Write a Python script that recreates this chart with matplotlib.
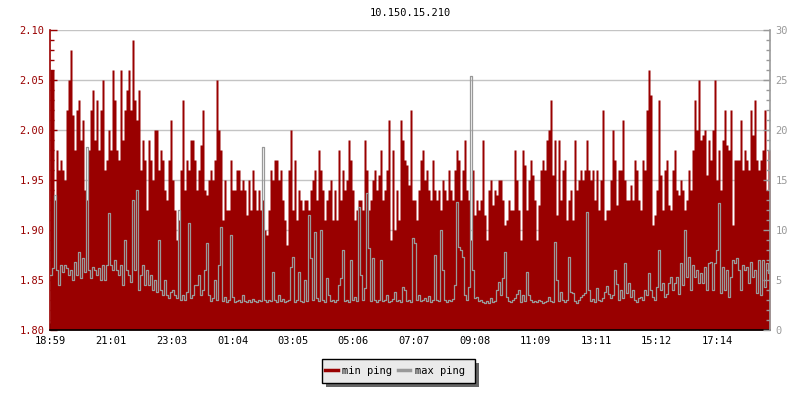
import numpy as np
import matplotlib
matplotlib.use("Agg")
import matplotlib.pyplot as plt
from matplotlib.ticker import MultipleLocator, FormatStrFormatter
from matplotlib.lines import Line2D
from matplotlib.patches import Rectangle

plt.rcParams["font.family"] = "DejaVu Sans Mono"

title = "10.150.15.210"
start_time = "18:59"
sample_step_min = 4
span_min = 24 * 60
time_labels = ["18:59", "21:01", "23:03", "01:04", "03:05", "05:06",
               "07:07", "09:08", "11:09", "13:11", "15:12", "17:14"]
series_names = ["min ping", "max ping"]

# min ping (left axis), one value every 4 minutes
min_ping = [
    2.06, 2.06, 1.93, 1.98, 1.96, 1.97, 1.96, 1.95, 2.02, 2.05,
    2.08, 2.015, 1.98, 2.02, 2.03, 1.99, 2.01, 1.94, 1.93, 1.98,
    2.02, 2.04, 1.99, 2.03, 1.98, 2.02, 2.05, 1.96, 1.97, 2.00,
    1.98, 2.06, 2.03, 1.98, 1.97, 2.06, 1.99, 2.02, 2.04, 2.06,
    2.02, 2.09, 2.03, 2.01, 2.04, 1.96, 1.99, 1.97, 1.92, 1.99,
    1.97, 1.95, 2.00, 2.00, 1.96, 1.98, 1.97, 1.94, 1.93, 1.97,
    2.01, 1.95, 1.92, 1.89, 1.91, 1.96, 2.03, 1.94, 1.97, 1.96,
    1.99, 1.99, 1.97,
    1.94, 1.96, 1.985, 2.02, 1.94, 1.935, 1.95, 1.96, 1.95, 1.97,
    2.05, 2.00, 1.98, 1.91, 1.95, 1.92, 1.92, 1.97, 1.94, 1.94,
    1.96, 1.96, 1.94, 1.95, 1.94, 1.915, 1.95, 1.92, 1.96, 1.94,
    1.92, 1.94, 1.92, 1.93, 1.90, 1.895, 1.92, 1.96, 1.95, 1.97,
    1.97, 1.95, 1.96, 1.93, 1.91, 1.885, 1.96, 2.00, 1.92, 1.97,
    1.91, 1.94, 1.93, 1.92, 1.93, 1.93, 1.92, 1.94, 1.95, 1.96,
    1.93, 1.98, 1.96, 1.94, 1.91, 1.93, 1.94, 1.95, 1.91, 1.94,
    1.91,
    1.98, 1.93, 1.96, 1.94, 1.95, 1.99, 1.97, 1.94, 1.91, 1.92,
    1.93, 1.93, 1.92, 1.99, 1.96, 1.92, 1.93, 1.95, 1.96, 1.94,
    1.955, 1.98, 1.93, 1.94, 1.96, 2.01, 1.89, 1.98, 1.90, 1.94,
    1.91, 2.01, 1.99, 1.97, 1.965, 1.945, 2.02, 1.93, 1.93, 1.91,
    1.94, 1.97, 1.98, 1.95, 1.96, 1.94, 1.93, 1.97, 1.94, 1.93,
    1.94, 1.92, 1.95, 1.94, 1.93, 1.96, 1.94, 1.93, 1.96, 1.98,
    1.97, 1.93, 1.96, 1.99, 1.94, 1.93, 1.89, 1.96, 1.915, 1.93,
    1.92, 1.93,
    1.99, 1.915, 1.89, 1.94, 1.95, 1.925, 1.94, 1.935, 1.95, 1.95,
    1.93, 1.905, 1.91, 1.93, 1.92, 1.92, 1.98, 1.95, 1.92, 1.89,
    1.98, 1.965, 1.92, 1.95, 1.97, 1.955, 1.93, 1.89, 1.925, 1.96,
    1.97, 1.96, 1.99, 2.00, 2.03, 1.955, 1.99, 1.915, 1.99, 1.93,
    1.96, 1.97, 1.91, 1.93, 1.94, 1.91, 1.99, 1.94, 1.95, 1.96,
    1.95, 1.96, 1.99, 1.96, 1.95, 1.96, 1.93, 1.96, 1.92, 1.95,
    2.02, 1.91, 1.92, 1.92, 1.95, 2.00, 1.97, 1.925, 1.96, 1.96,
    2.01, 1.95,
    1.93, 1.93, 1.945, 1.93, 1.97, 1.96, 1.93, 1.92, 1.97, 1.96,
    2.02, 2.06, 2.035, 1.905, 1.915, 1.94, 2.03, 1.955, 1.92, 1.96,
    1.97, 1.925, 1.92, 1.96, 1.98, 1.94, 1.935, 1.95, 1.94, 1.92,
    1.93, 1.96, 1.94, 1.98, 2.03, 2.00, 2.05, 1.99, 1.995, 2.00,
    1.955, 1.99, 1.97, 2.00, 2.05, 1.95, 1.98, 1.94, 1.99, 2.02,
    1.985, 1.98, 2.02, 1.905, 1.97, 1.97, 1.97, 2.01, 1.96, 1.98,
    1.97, 1.96, 2.02, 1.995, 2.03, 1.97, 1.96, 1.97, 1.98, 2.02,
    1.94, 1.98,
]

# max ping (right axis), same timestamps
max_ping = [
    5.5, 6.2, 13.5, 6.0, 4.5, 6.5, 5.8, 6.5, 6.2, 5.5,
    6.0, 5.0, 6.8, 5.5, 7.8, 5.2, 7.2, 5.8, 18.3, 6.0,
    5.2, 6.3, 6.0, 5.5, 6.2, 5.0, 6.5, 5.0, 6.5, 11.7,
    6.5, 6.0, 7.0, 6.0, 5.5, 6.5, 4.5, 9.0, 6.0, 5.5,
    4.8, 13.0, 6.0, 14.0, 4.0, 5.5, 6.5, 4.5, 6.0, 4.5,
    5.5, 4.0, 5.0, 3.8, 9.0, 4.0, 3.5, 5.0, 3.5, 3.2,
    3.8, 4.0, 3.5, 3.2, 12.0, 3.0, 3.5, 3.0, 3.8, 10.7,
    3.2, 3.5, 4.5,
    4.5, 5.5, 3.5, 4.0, 6.0, 8.7, 3.5, 2.9, 3.2, 5.0,
    3.0, 6.5, 10.3, 2.9, 3.3, 2.8, 3.0, 9.5, 3.3, 2.8,
    2.9, 3.0, 2.8, 3.5, 2.9, 2.8, 3.0, 2.8, 3.1, 2.9,
    2.8, 3.0, 2.9, 18.3, 3.0, 2.8, 3.0, 2.9, 5.8, 3.0,
    2.8, 3.5, 2.9, 3.1, 2.8, 2.9, 3.0, 6.3, 7.3, 2.8,
    3.0, 5.8, 2.9, 2.8, 5.0, 2.9, 11.5, 7.2, 3.0, 9.8,
    3.2, 2.9, 10.0, 3.0, 2.8, 5.2, 3.5, 2.9, 3.0, 2.8,
    3.0,
    4.5, 5.2, 8.0, 2.9, 3.0, 2.8, 7.0, 3.0, 3.3, 2.9,
    12.3, 5.5, 3.0, 4.2, 13.7, 8.2, 2.9, 7.2, 3.0, 2.8,
    3.0, 7.0, 2.9, 3.0, 3.5, 2.8, 2.9, 3.1, 3.8, 2.9,
    3.0, 2.8, 4.3, 4.0, 2.9, 3.0, 2.8, 9.2, 8.7, 3.0,
    3.5, 2.9, 3.0, 3.2, 2.9, 3.4, 2.8, 3.0, 7.5, 3.0,
    2.9, 10.0, 6.0, 3.0, 2.8, 3.0, 2.9, 3.1, 4.5, 12.8,
    8.3, 8.0, 7.3, 3.5, 3.0, 4.3, 25.4, 6.0, 3.2, 3.3,
    2.9, 3.0,
    2.8, 2.7, 2.9, 2.7, 3.2, 2.8, 2.9, 4.0, 4.8, 3.5,
    5.2, 7.8, 3.3, 2.9, 2.8, 3.0, 3.2, 3.6, 4.0, 2.8,
    3.5, 2.9, 5.8, 3.5, 3.0, 2.8, 2.9, 2.8, 3.0, 2.9,
    2.7, 2.8, 2.9, 3.3, 2.9, 2.8, 8.8, 5.0, 2.9, 3.8,
    3.0, 2.8, 3.0, 7.3, 3.8, 3.7, 2.9, 2.7, 3.0, 3.3,
    3.5, 3.7, 11.8, 4.0, 2.9, 3.1, 2.8, 4.2, 3.0, 2.9,
    3.2, 3.8, 4.4, 3.6, 3.2, 3.5, 6.0, 4.6, 3.0, 4.0,
    3.2, 6.7,
    3.7, 4.7, 3.3, 4.0, 3.0, 2.8, 3.2, 3.3, 3.0, 4.0,
    3.5, 5.7, 4.0, 3.3, 3.0, 4.3, 8.0, 4.0, 4.7, 3.3,
    3.6, 4.7, 5.3, 4.0, 4.7, 5.3, 3.6, 6.7, 4.5, 10.0,
    5.3, 7.3, 4.0, 6.5, 5.3, 6.0, 4.7, 5.7, 4.7, 6.3,
    4.0, 6.7, 6.8, 4.0, 6.7, 8.0, 12.7, 3.7, 6.3, 4.0,
    6.0, 3.3, 5.3, 7.0, 6.7, 7.2, 6.0, 4.0, 6.5, 6.0,
    6.3, 4.7, 6.8, 5.3, 6.0, 3.7, 7.0, 3.5, 7.0, 4.3,
    6.7, 5.7,
]

RED = "#990000"
GRAY = "#999999"
GRID = "#c4c4c4"
FS = 7.5


def minutes_after_start(hhmm):
    h, m = map(int, hhmm.split(":"))
    h0, m0 = map(int, start_time.split(":"))
    return ((h * 60 + m) - (h0 * 60 + m0)) % span_min


tick_pos = [minutes_after_start(t) for t in time_labels]

# step edges: each value holds for one sample interval
x = np.arange(len(min_ping) + 1) * sample_step_min
lo = np.append(min_ping, min_ping[-1])
hi = np.append(max_ping, max_ping[-1])

fig = plt.figure(figsize=(8, 4), dpi=100)
ax = fig.add_axes([50 / 800, 70 / 400, 720 / 800, 300 / 400])
ax2 = ax.twinx()

ax.set_xlim(0, span_min)
ax.set_ylim(1.80, 2.10)
ax2.set_ylim(0, 30)

ax.yaxis.grid(True, color=GRID, linewidth=1.0)
ax.set_axisbelow(True)
ax.fill_between(x, lo, 1.80, step="post", color=RED, linewidth=0, zorder=2)
ax2.step(x, hi, where="post", color=GRAY, linewidth=0.9)

# left axis
ax.yaxis.set_major_locator(MultipleLocator(0.05))
ax.yaxis.set_minor_locator(MultipleLocator(0.01))
ax.yaxis.set_major_formatter(FormatStrFormatter("%.2f"))
ax.tick_params(axis="y", which="both", direction="in", colors=RED,
               labelsize=FS, pad=4)
ax.tick_params(axis="y", which="major", length=5, width=1)
ax.tick_params(axis="y", which="minor", length=3, width=1)

# bottom axis
ax.set_xticks(tick_pos)
ax.set_xticklabels(time_labels)
ax.tick_params(axis="x", direction="in", length=5, width=1, colors="black",
               labelsize=FS, pad=4)

# right axis
ax2.yaxis.set_major_locator(MultipleLocator(5))
ax2.yaxis.set_minor_locator(MultipleLocator(1))
ax2.tick_params(axis="y", which="both", direction="in", colors=GRAY,
                labelsize=FS, pad=4)
ax2.tick_params(axis="y", which="major", length=5, width=1)
ax2.tick_params(axis="y", which="minor", length=3, width=1)

for a in (ax, ax2):
    a.spines["top"].set_visible(False)
ax.spines["right"].set_visible(False)
ax.spines["left"].set_color(RED)
ax.spines["left"].set_linewidth(1.2)
ax.spines["bottom"].set_color("black")
ax.spines["bottom"].set_linewidth(1.2)
ax.spines["bottom"].set_zorder(5)
ax2.spines["left"].set_visible(False)
ax2.spines["bottom"].set_visible(False)
ax2.spines["right"].set_color(GRAY)
ax2.spines["right"].set_linewidth(1.2)

fig.text(410 / 800, 1 - 13 / 400, title, ha="center", va="center",
         fontsize=FS)

# legend box with a drop shadow, drawn by hand
bx, by, bw, bh = 322 / 800, 1 - 383 / 400, 153 / 800, 24 / 400
fig.patches.append(Rectangle((bx + 4 / 800, by - 4 / 400), bw, bh,
                             transform=fig.transFigure, facecolor="#666666",
                             edgecolor="none", zorder=1))
fig.patches.append(Rectangle((bx, by), bw, bh, transform=fig.transFigure,
                             facecolor="#eaeaea", edgecolor="black",
                             linewidth=1.0, zorder=2))

handles = [Line2D([], [], color=RED, linewidth=2.5),
           Line2D([], [], color=GRAY, linewidth=2.5)]
leg = fig.legend(handles, series_names, loc="center left",
                 bbox_to_anchor=(325 / 800, 1 - 371 / 400), ncol=2,
                 fontsize=FS, frameon=False,
                 handlelength=1.2, handletextpad=0.4, columnspacing=0.6,
                 borderpad=0, borderaxespad=0)
leg.set_zorder(3)

fig.savefig("out.png", dpi=100)
